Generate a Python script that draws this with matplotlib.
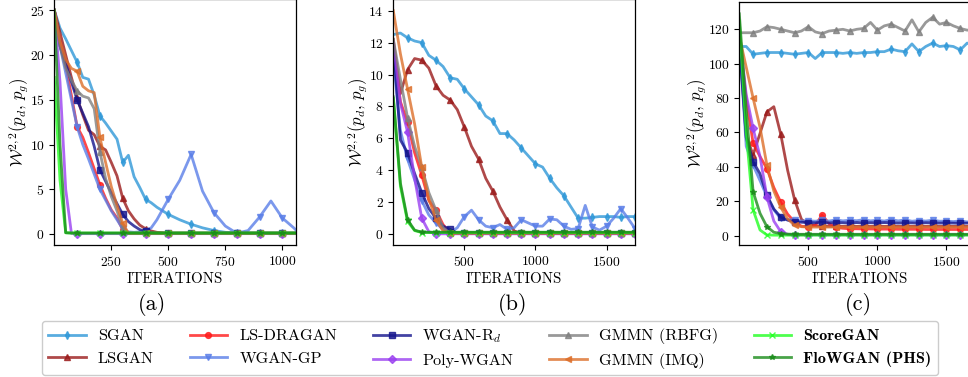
import numpy as np
import matplotlib
matplotlib.use("Agg")
import matplotlib.pyplot as plt

plt.rcParams['font.family'] = ['cmr10', 'DejaVu Serif']
plt.rcParams['mathtext.fontset'] = 'cm'
plt.rcParams['axes.formatter.use_mathtext'] = True
plt.rcParams['axes.unicode_minus'] = False

names = ['SGAN', 'LSGAN', 'LS-DRAGAN', 'WGAN-GP', r'WGAN-R$_d$', 'Poly-WGAN',
         'GMMN (RBFG)', 'GMMN (IMQ)', 'ScoreGAN', 'FloWGAN (PHS)']
colors = ['#2f98d8', '#9b1c1c', '#ff1a1a', '#5a7ee8', '#14148c', '#9a40f0',
          '#808080', '#dd6f2a', '#22ff22', '#1a8c1a']
markers = ['d', '^', 'o', 'v', 's', 'D', '^', '<', 'x', '*']

# ---------------- panel (a) ----------------
xa = [0, 25, 50, 75, 100, 125, 150, 175, 200, 225, 250, 275, 300, 325, 350, 375, 400, 425, 450,
      500, 550, 600, 650, 700, 750, 800, 850, 900, 950, 1000, 1050, 1060]
a_sgan = [25, 23.0, 21.8, 20.5, 19.2, 17.5, 17.3, 15.5, 13.2, 12.4, 11.5, 10.6, 8.0, 8.8, 6.4, 5.2, 3.9, 3.5, 3.0,
          2.2, 1.6, 1.1, 0.7, 0.4, 0.2, 0.12, 0.1, 0.1, 0.1, 0.1, 0.1, 0.1]
a_lsgan = [25, 22.5, 20.0, 17.5, 15.2, 13.3, 11.6, 11.1, 9.8, 9.4, 8.0, 6.5, 4.0, 2.6, 1.7, 1.0, 0.6, 0.35, 0.2,
           0.1, 0.1, 0.1, 0.1, 0.1, 0.1, 0.1, 0.1, 0.1, 0.1, 0.1, 0.1, 0.1]
a_lsdragan = [25, 21.5, 18.8, 15.5, 12.0, 10.8, 9.1, 7.3, 5.5, 4.0, 2.7, 1.8, 0.5, 0.1, 0.08, 0.08, 0.08, 0.08, 0.08,
              0.08, 0.08, 0.08, 0.08, 0.08, 0.08, 0.08, 0.08, 0.08, 0.08, 0.08, 0.08, 0.08]
a_wgangp = [25, 21.0, 18.0, 15.0, 12.0, 10.0, 8.4, 6.7, 5.0, 3.8, 2.6, 1.6, 0.6, 0.25, 0.2, 0.25, 0.35, 0.7, 1.6,
            3.9, 6.0, 8.9, 4.8, 2.4, 0.9, 0.1, 0.4, 1.9, 3.7, 1.8, 0.7, 0.45]
a_wganrd = [25, 21.0, 19.0, 17.0, 15.0, 13.5, 12.0, 9.8, 7.2, 5.9, 4.6, 3.4, 2.2, 1.4, 0.9, 0.5, 0.3, 0.15, 0.1,
            0.1, 0.1, 0.1, 0.1, 0.1, 0.1, 0.1, 0.1, 0.1, 0.1, 0.1, 0.1, 0.1]
a_poly = [25, 17.0, 5.0, 0.1, 0.05, 0.05, 0.05, 0.05, 0.05, 0.05, 0.05, 0.05, 0.05, 0.05, 0.05, 0.05, 0.05, 0.05, 0.05,
          0.05, 0.05, 0.05, 0.05, 0.05, 0.05, 0.05, 0.05, 0.05, 0.05, 0.05, 0.05, 0.05]
a_rbfg = [25, 21.0, 18.5, 17.2, 16.0, 15.4, 15.2, 14.0, 9.2, 6.2, 4.2, 2.6, 0.7, 0.1, 0.1, 0.1, 0.1, 0.1, 0.1,
          0.1, 0.1, 0.1, 0.1, 0.1, 0.1, 0.1, 0.1, 0.1, 0.1, 0.1, 0.1, 0.1]
a_imq = [25, 21.5, 19.5, 18.5, 18.2, 16.5, 16.0, 15.8, 10.8, 8.0, 5.3, 3.2, 1.2, 0.1, 0.1, 0.1, 0.1, 0.1, 0.1,
         0.1, 0.1, 0.1, 0.1, 0.1, 0.1, 0.1, 0.1, 0.1, 0.1, 0.1, 0.1, 0.1]
a_score = [17.5, 6.0, 0.15, 0.12, 0.12, 0.12, 0.12, 0.12, 0.12, 0.12, 0.12, 0.12, 0.12, 0.12, 0.12, 0.12, 0.12, 0.12, 0.12,
           0.12, 0.12, 0.12, 0.12, 0.12, 0.12, 0.12, 0.12, 0.12, 0.12, 0.12, 0.12, 0.12]
a_flow = [25, 10.0, 0.15, 0.12, 0.12, 0.12, 0.12, 0.12, 0.12, 0.12, 0.12, 0.12, 0.12, 0.12, 0.12, 0.12, 0.12, 0.12, 0.12,
          0.12, 0.12, 0.12, 0.12, 0.12, 0.12, 0.12, 0.12, 0.12, 0.12, 0.12, 0.12, 0.12]

# ---------------- panel (b) ----------------
xb = [0, 50, 100, 150, 200, 250, 300, 350, 400, 450, 500, 550, 600, 650, 700, 750, 800, 850, 900,
      950, 1000, 1050, 1100, 1150, 1200, 1250, 1300, 1350, 1400, 1450, 1500, 1550, 1600, 1650, 1700]
b_sgan = [12.5, 12.6, 12.3, 12.1, 12.0, 11.2, 10.9, 10.5, 9.8, 9.7, 9.1, 8.6, 8.1, 7.4, 7.1, 6.3, 6.3, 5.9, 5.4,
          4.9, 4.4, 4.2, 3.5, 2.9, 2.4, 1.7, 1.0, 1.0, 1.05, 1.1, 1.1, 1.1, 1.05, 1.1, 1.1]
b_lsgan = [12.2, 8.8, 10.3, 11.0, 10.9, 10.4, 9.3, 8.7, 8.4, 7.8, 6.7, 5.5, 4.7, 3.5, 2.7, 1.7, 0.9, 0.2, 0.05,
           0.05, 0.05, 0.05, 0.05, 0.05, 0.05, 0.05, 0.05, 0.05, 0.05, 0.05, 0.05, 0.05, 0.05, 0.05, 0.05]
b_lsdragan = [12.0, 8.3, 7.0, 5.1, 3.7, 2.1, 1.5, 0.6, 0.06, 0.06, 0.06, 0.06, 0.06, 0.06, 0.06, 0.06, 0.06, 0.06, 0.06,
              0.06, 0.06, 0.06, 0.06, 0.06, 0.06, 0.06, 0.06, 0.06, 0.06, 0.06, 0.06, 0.06, 0.06, 0.06, 0.06]
b_wgangp = [11.0, 6.5, 4.7, 3.4, 2.1, 1.2, 0.7, 0.3, 0.1, 0.4, 1.1, 1.5, 0.9, 0.5, 0.4, 0.6, 0.3, 0.4, 0.9,
            0.7, 0.5, 0.5, 0.95, 0.9, 0.5, 0.3, 0.35, 1.8, 0.45, 0.25, 0.5, 1.0, 1.6, 1.0, 0.35]
b_wganrd = [12.0, 5.9, 5.1, 3.8, 2.6, 1.6, 1.0, 0.5, 0.3, 0.06, 0.06, 0.06, 0.06, 0.06, 0.06, 0.06, 0.06, 0.06, 0.06,
            0.06, 0.06, 0.06, 0.06, 0.06, 0.06, 0.06, 0.06, 0.06, 0.06, 0.06, 0.06, 0.06, 0.06, 0.06, 0.06]
b_poly = [12.0, 8.2, 6.4, 3.5, 1.0, 0.15, 0.02, 0.02, 0.02, 0.02, 0.02, 0.02, 0.02, 0.02, 0.02, 0.02, 0.02, 0.02, 0.02,
          0.02, 0.02, 0.02, 0.02, 0.02, 0.02, 0.02, 0.02, 0.02, 0.02, 0.02, 0.02, 0.02, 0.02, 0.02, 0.02]
b_rbfg = [12.2, 9.7, 7.3, 5.5, 4.2, 2.6, 1.5, 0.4, 0.06, 0.06, 0.06, 0.06, 0.06, 0.06, 0.06, 0.06, 0.06, 0.06, 0.06,
          0.06, 0.06, 0.06, 0.06, 0.06, 0.06, 0.06, 0.06, 0.06, 0.06, 0.06, 0.06, 0.06, 0.06, 0.06, 0.06]
b_imq = [14.0, 11.3, 9.1, 6.9, 4.2, 2.2, 0.9, 0.2, 0.06, 0.06, 0.06, 0.06, 0.06, 0.06, 0.06, 0.06, 0.06, 0.06, 0.06,
         0.06, 0.06, 0.06, 0.06, 0.06, 0.06, 0.06, 0.06, 0.06, 0.06, 0.06, 0.06, 0.06, 0.06, 0.06, 0.06]
b_score = [8.5, 3.0, 0.8, 0.22, 0.1, 0.1, 0.1, 0.1, 0.1, 0.1, 0.1, 0.1, 0.1, 0.1, 0.1, 0.1, 0.1, 0.1, 0.1,
           0.1, 0.1, 0.1, 0.1, 0.1, 0.1, 0.1, 0.1, 0.1, 0.1, 0.1, 0.1, 0.1, 0.1, 0.1, 0.1]
b_flow = [8.6, 3.2, 0.9, 0.25, 0.12, 0.12, 0.12, 0.12, 0.12, 0.12, 0.12, 0.12, 0.12, 0.12, 0.12, 0.12, 0.12, 0.12, 0.12,
          0.12, 0.12, 0.12, 0.12, 0.12, 0.12, 0.12, 0.12, 0.12, 0.12, 0.12, 0.12, 0.12, 0.12, 0.12, 0.12]

# ---------------- panel (c) ----------------
xc = [0, 50, 100, 150, 200, 250, 300, 350, 400, 450, 500, 550, 600, 650, 700, 750, 800, 850, 900,
      950, 1000, 1050, 1100, 1150, 1200, 1250, 1300, 1350, 1400, 1450, 1500, 1550, 1600, 1650, 1700]
c_sgan = [110, 110, 105.5, 106, 106.5, 106.5, 106.5, 106, 105.5, 106, 106.5, 103, 106.5, 106.5, 106.5, 106, 106.5, 106, 106.5,
          106.5, 107, 107, 108.5, 107.5, 107, 111.5, 107, 110, 112, 110, 110.5, 110, 108, 112, 110]
c_lsgan = [115, 58, 47, 59.5, 72, 75, 59, 38, 21, 9.5, 6.5, 5.8, 5.5, 5.5, 5.5, 5.4, 5.5, 5.4, 5.5,
           5.4, 5.5, 5.4, 5.5, 5.4, 5.5, 5.4, 5.5, 5.4, 5.5, 5.4, 5.5, 5.4, 5.5, 5.4, 5.5]
c_lsdragan = [115, 80, 53.7, 46, 39, 28, 19.5, 12.5, 8.0, 5.5, 5.2, 6.0, 12.0, 7.0, 4.8, 4.3, 4.0, 4.0, 3.9,
              3.9, 3.8, 3.8, 3.8, 3.7, 3.7, 3.7, 3.7, 3.6, 3.6, 3.6, 3.6, 3.6, 3.6, 3.6, 3.6]
c_wgangp = [115, 52, 41, 32, 22.7, 15, 10, 9.5, 9.0, 8.5, 8.7, 8.4, 9.0, 8.5, 9.2, 8.6, 9.0, 8.7, 9.3,
            8.6, 9.0, 8.5, 9.4, 8.6, 9.2, 8.4, 8.8, 8.5, 9.0, 8.4, 8.5, 8.2, 8.6, 8.0, 8.2]
c_wganrd = [112, 57, 43, 36, 23.5, 15.5, 10.8, 9.0, 8.0, 7.8, 7.6, 7.5, 7.8, 7.4, 7.6, 7.5, 7.3, 7.6, 7.4,
            7.5, 7.4, 7.6, 7.5, 7.3, 7.5, 7.4, 7.3, 7.5, 7.4, 7.3, 7.4, 7.3, 7.2, 7.3, 7.2]
c_poly = [118, 82, 62.4, 46, 22.5, 8.5, 2.3, 0.8, 0.5, 0.5, 0.5, 0.5, 0.5, 0.5, 0.5, 0.5, 0.5, 0.5, 0.5,
          0.5, 0.5, 0.5, 0.5, 0.5, 0.5, 0.5, 0.5, 0.5, 0.5, 0.5, 0.5, 0.5, 0.5, 0.5, 0.5]
c_rbfg = [118, 118, 118, 119, 121.5, 121, 120, 119, 118, 119, 121.5, 118.5, 117.5, 119, 119.5, 120, 119, 120, 120.5,
          124, 119.5, 122, 123, 121, 119, 125.5, 118.5, 124, 127, 123, 124, 122, 120.5, 119.5, 120]
c_imq = [116, 98, 80, 63, 41, 26, 16.5, 9.8, 6.0, 5.2, 5.0, 5.0, 5.0, 5.0, 5.0, 5.0, 5.0, 5.0, 5.0,
         5.0, 5.0, 5.0, 5.0, 5.0, 5.0, 5.0, 5.0, 5.0, 5.0, 5.0, 5.0, 5.0, 5.0, 5.0, 5.0]
c_score = [125, 60, 15, 3.3, 0.4, 0.3, 0.3, 0.3, 0.3, 0.3, 0.3, 0.3, 0.3, 0.3, 0.3, 0.3, 0.3, 0.3, 0.3,
           0.3, 0.3, 0.3, 0.3, 0.3, 0.3, 0.3, 0.3, 0.3, 0.3, 0.3, 0.3, 0.3, 0.3, 0.3, 0.3]
c_flow = [129, 73, 25.6, 13, 5.2, 2.0, 1.2, 0.9, 0.8, 0.8, 0.8, 0.8, 0.8, 0.8, 0.8, 0.8, 0.8, 0.8, 0.8,
          0.8, 0.8, 0.8, 0.8, 0.8, 0.8, 0.8, 0.8, 0.8, 0.8, 0.8, 0.8, 0.8, 0.8, 0.8, 0.8]

panels = [
    (xa, [a_sgan, a_lsgan, a_lsdragan, a_wgangp, a_wganrd, a_poly, a_rbfg, a_imq, a_score, a_flow],
     (0, 1060), (-1.25, 26.25), [250, 500, 750, 1000], [0, 5, 10, 15, 20, 25]),
    (xb, [b_sgan, b_lsgan, b_lsdragan, b_wgangp, b_wganrd, b_poly, b_rbfg, b_imq, b_score, b_flow],
     (0, 1700), (-0.7, 14.7), [500, 1000, 1500], [0, 2, 4, 6, 8, 10, 12, 14]),
    (xc, [c_sgan, c_lsgan, c_lsdragan, c_wgangp, c_wganrd, c_poly, c_rbfg, c_imq, c_score, c_flow],
     (0, 1750), (-5.6, 135.7), [500, 1000, 1500], [0, 20, 40, 60, 80, 100, 120]),
]

W, H = 968, 377
fig = plt.figure(figsize=(W / 100, H / 100), dpi=100)
rects = [
    [54.3 / W, (H - 245.3) / H, 241.7 / W, 246.3 / H],
    [393.3 / W, (H - 245.3) / H, 241.7 / W, 245.8 / H],
    [739.3 / W, (H - 245.3) / H, 241.7 / W, 243.0 / H],
]
captions = ['(a)', '(b)', '(c)']
cap_x = [152, 513, 858]

handles = []
for k, (x, series, xl, yl, xt, yt) in enumerate(panels):
    ax = fig.add_axes(rects[k])
    x = np.asarray(x)
    mask = [(v % 100 == 0) and v > 0 for v in x]
    for i, y in enumerate(series):
        ln, = ax.plot(x, y, color=colors[i], marker=markers[i], markevery=mask,
                      lw=2.0, ms=4.2, alpha=0.8, label=names[i])
        if k == 0:
            handles.append(ln)
    ax.set_xlim(*xl)
    ax.set_ylim(*yl)
    ax.set_xticks(xt)
    ax.set_yticks(yt)
    ax.tick_params(labelsize=9.8, length=3.5, width=0.8)
    ax.set_xlabel('ITERATIONS', fontsize=10.8, labelpad=2)
    ax.set_ylabel(r'$\mathcal{W}^{2,2}(p_d,\, p_g)$', fontsize=12.0, labelpad=-1)
    for s in ax.spines.values():
        s.set_linewidth(0.9)
    fig.text(cap_x[k] / W, 1 - 305 / H, captions[k], fontsize=16, ha='center', va='center')

leg = fig.legend(handles, names, ncol=5, loc='center', bbox_to_anchor=(490 / W, 1 - 348 / H),
                 fontsize=11.7, handlelength=2.3, handletextpad=0.75, columnspacing=2.2,
                 labelspacing=0.5, borderpad=0.4, fancybox=True, framealpha=1.0, edgecolor='0.8')
for t in leg.get_texts()[8:]:
    t.set_family(['cmb10', 'DejaVu Serif'])

fig.savefig('out.png', dpi=100)
